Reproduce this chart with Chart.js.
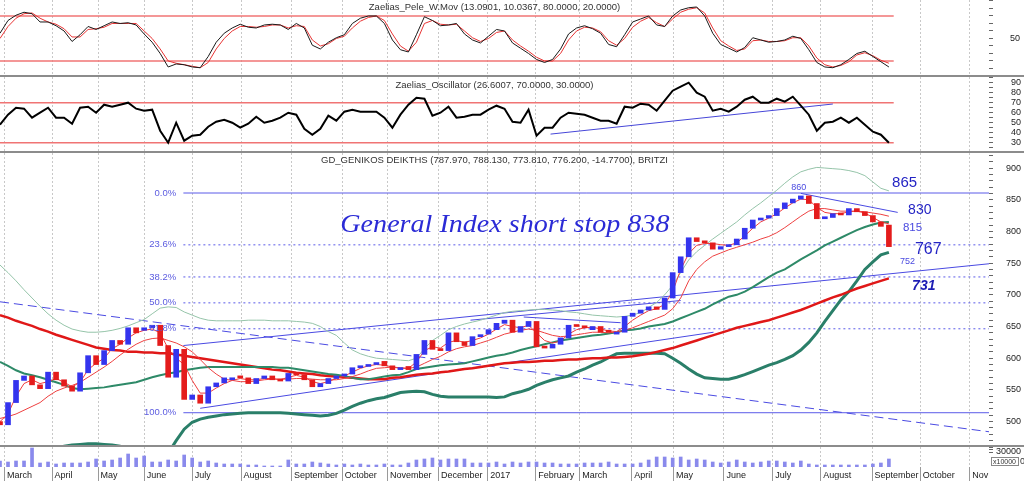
<!DOCTYPE html>
<html>
<head>
<meta charset="utf-8">
<script src="https://cdn.jsdelivr.net/npm/chart.js@4.4.1/dist/chart.umd.min.js"></script>
<style>
  html, body { margin: 0; padding: 0; background: #fff; }
  #wrap { position: relative; width: 1024px; height: 481px; overflow: hidden; background: #fff; }
  #wrap canvas { position: absolute; left: 0; }
  .sep { position: absolute; left: 0; width: 1024px; height: 2px; background: #8c8c8c; z-index: 2; }
</style>
</head>
<body>
<div id="wrap">
  <canvas id="pele" width="1024" height="75" style="top:0"></canvas>
  <div class="sep" style="top:75px"></div>
  <canvas id="osc" width="1024" height="74" style="top:77px"></canvas>
  <div class="sep" style="top:151px"></div>
  <canvas id="price" width="1024" height="292" style="top:153px"></canvas>
  <div class="sep" style="top:445px"></div>
  <canvas id="vol" width="1024" height="34" style="top:447px"></canvas>
</div>
<script>
// resampled bars: bar i is one step of the x axis (about 3.6 sessions), March 2016 .. Sept 2017
const monthPos = [0.56, 6.5, 12.25, 18, 24, 30.1, 36.4, 42.75, 48.4, 54.75, 60.9, 66.9, 72.4, 78.9, 84.1, 90.4, 96.5, 102.5, 108.9, 114.9, 121.1];
const monthNames = ['March', 'April', 'May', 'June', 'July', 'August', 'September', 'October', 'November', 'December', '2017',
  'February', 'March', 'April', 'May', 'June', 'July', 'August', 'September', 'October', 'Nov'];

// Zaelias_Pele_W.Mov
const peleFast = [57,74,81,85,83,72,72,67,60,46, 55,66,62,67,72,70,71,68,56,45, 30,12,16,15,12,11,26,45,57,64,
  69,65,64,68,69,68,62,70,64,41, 36,45,51,55,70,77,80,80,70,48, 35,32,55,79,74,67,68,70,56,48,
  44,53,62,60,44,37,30,22,18,22, 36,56,64,67,63,57,42,39,55,72, 76,80,68,66,80,88,91,92,80,57,
  42,37,32,38,51,48,45,46,48,53, 50,35,18,12,11,15,22,30,33,26, 19,12];
const peleSlow = [50,66,77,83,84,77,72,69,63,52, 52,62,63,65,70,70,70,70,60,50, 36,20,17,15,13,11,18,36,50,60,
  66,66,65,66,68,68,64,67,66,48, 40,43,50,53,64,73,78,80,74,56, 40,33,45,70,74,69,68,69,60,51,
  46,50,58,60,48,40,33,25,20,20, 30,48,60,65,64,59,47,41,50,65, 73,78,71,66,76,85,89,91,84,64,
  47,40,34,36,47,48,46,46,47,51, 51,40,24,15,12,14,19,28,31,27, 21,17];
const peleLevels = [80, 20];

// Zaelias_Oscillator
const oscValues = [48,58,65,64,55,60,65,55,55,49, 65,66,60,68,66,68,70,64,62,63, 42,30,50,32,37,38,46,51,53,50,
  45,49,56,50,52,55,60,58,44,38, 44,57,52,61,63,61,61,61,55,45, 58,68,75,74,57,60,66,55,56,58,
  58,63,67,64,51,50,63,37,45,45, 55,60,59,58,55,52,52,49,66,65, 69,68,62,72,82,86,90,80,76,62,
  64,61,66,73,76,70,70,74,71,76, 67,58,42,50,51,55,50,55,48,41, 38,30];
const oscLevels = [70, 30];
const oscTrend = [[68.75, 38.6], [104, 68.7]];

// GD_GENIKOS DEIKTHS candles
const opens = [500,495,530,565,572,558,552,578,566,556, 548,577,604,590,612,628,622,648,644,648, 652,620,570,614,535,542,529,555,561,566,
  571,569,560,568,572,566,564,576,574,566, 555,560,568,572,575,585,587,590,595,588, 582,587,582,606,628,614,612,640,626,620,
  634,638,645,655,660,641,650,658,618,616, 622,632,652,650,645,650,644,638,641,666, 671,676,681,677,695,735,760,790,784,782,
  772,776,779,788,805,818,821,825,836,845, 851,856,844,820,822,828,826,836,831,825, 815,810];
const closes = [495,530,565,572,558,552,578,566,556,548, 577,604,590,612,628,622,648,640,648,652, 620,570,614,535,542,529,555,561,569,569,
  569,560,568,572,566,564,576,574,566,555, 560,568,572,575,585,587,590,592,588,582, 584,582,606,628,614,612,640,626,620,634,
  635,645,655,660,641,650,658,618,616,622, 632,652,650,648,650,641,641,641,666,671, 676,681,677,695,735,760,790,784,782,772,
  776,779,788,805,818,821,825,836,845,851, 856,844,820,822,828,826,836,831,825,815, 808,776];
const fastAvg = [500,512,540,560,566,560,563,568,562,555, 562,582,592,600,615,622,632,640,644,646, 640,615,600,590,565,545,545,553,560,565,
  568,566,566,568,568,566,570,573,570,563, 560,563,568,572,578,584,588,590,589,586, 584,584,594,612,618,616,625,628,625,628,
  632,638,646,653,650,648,652,640,628,624, 627,638,645,648,649,646,643,642,650,660, 668,675,678,685,705,740,765,778,781,781,
  779,778,782,793,805,815,821,828,837,845, 851,850,838,830,828,828,831,832,829,822, 815,812];
const slowAvg = [505,508,512,518,524,530,540,548,553,557, 562,570,578,586,595,605,614,622,628,631, 632,628,624,618,610,598,585,575,567,565,
  563,563,564,566,567,567,567,568,568,567, 566,566,566,568,571,575,580,584,585,586, 585,584,586,592,598,603,610,615,618,620,
  624,628,633,638,641,644,646,644,640,636, 634,635,637,639,641,641,640,641,644,648, 653,658,663,668,678,695,722,740,752,761,
  766,771,775,779,783,788,792,798,806,815, 824,832,836,836,834,832,832,832,831,829, 827,824];
const midBand = [594,588,581,576,573,570,566,562,558,553, 551,552,553,554,556,558,560,562,566,570, 573,576,578,581,583,585,586,586,586,586,
  586,586,586,586,586,585,585,583,581,579, 577,575,574,572,569,567,567,569,571,573, 574,578,583,585,587,589,590,591,592,595,
  598,601,604,606,609,613,616,619,622,625, 628,630,632,634,636,637,639,641,644,645, 647,650,652,654,658,663,668,673,678,685,
  691,697,700,705,712,720,728,735,740,748, 756,763,770,778,784,790,796,802,807,811, 814,815];
const longAvg = [668,664,659,655,651,646,642,637,633,629, 625,621,617,615,613,612,610,610,609,609, 608,608,606,604,602,600,598,596,594,592,
  590,588,586,584,582,581,579,577,576,575, 573,572,571,570,569,568,567,567,567,569, 570,572,574,575,576,578,579,581,583,584,
  586,588,590,592,593,594,594,595,596,596, 597,598,598,599,600,600,601,601,602,603, 605,607,610,613,616,620,624,628,632,636,
  640,644,648,651,654,657,660,664,668,672, 676,681,686,691,696,700,705,710,714,718, 722,726];
const lowBand = [420,428,436,442,448,452,456,459,461,463, 464,465,465,464,463,461,458,454,448,440, 436,450,470,488,499,504,507,509,511,512,
  513,514,514,514,514,514,513,512,511,510, 509,510,513,518,524,529,533,536,538,542, 546,547,548,547,543,540,539,539,539,539,
  539,539,538,539,544,547,551,557,562,566, 569,572,578,583,589,594,601,607,608,608, 608,608,608,607,600,592,583,575,569,568,
  567,567,570,574,579,584,589,593,598,604, 613,625,640,658,675,692,705,722,740,752, 763,767];
const upBand = [747,735,722,708,695,682,670,660,652,646, 643,641,641,642,644,647,651,656,661,670, 679,681,680,673,668,663,660,659,659,659,
  659,660,660,660,659,659,659,658,657,655, 650,642,636,624,613,607,603,600,599,598, 597,596,600,615,628,636,645,650,654,657,
  660,664,668,672,674,675,676,677,677,676, 675,673,672,670,668,667,666,665,666,668, 672,680,688,700,715,735,755,768,778,788,
  797,806,815,826,836,845,855,865,876,886, 894,898,901,900,899,898,896,893,888,878, 868,864];

// drawn trend lines [x, value]
const downTrend = [[0, 689], [123.5, 484]];
const riseLine = [[22.9, 620], [123.5, 749]];
const riseLine2 = [[58.75, 660], [85, 691]];
const supportLine = [[25, 521], [89.1, 641]];
const flagLine = [[65.4, 665], [77.5, 656]];
const topLine = [[100, 860], [112.1, 830]];

// Fibonacci retracement
const fibHigh = 860.6, fibLow = 514, fibStart = 22.9;
const fibPct = [0, 23.6, 38.2, 50, 61.8, 100];

// volume, units of 1000 (axis shows x10000)
const volume = [12,10,12,12,38,8,10,6,8,8, 8,10,16,12,14,18,26,18,22,10, 10,14,12,24,18,10,12,8,6,6,
  6,4,4,2,2,2,14,6,6,10, 8,6,4,6,4,6,4,4,6,4, 4,8,14,16,18,14,16,16,16,8,
  8,8,10,6,10,8,10,10,8,8, 6,6,6,8,8,8,10,6,6,6, 8,14,20,20,18,20,14,16,14,10,
  8,10,14,10,8,10,12,12,10,8, 12,6,4,4,4,4,4,4,4,6, 8,16];

const peleTicks = [10, 20, 30, 40, 50, 60, 70, 80, 90, 100];
const oscTicks = [25, 30, 35, 40, 45, 50, 55, 60, 65, 70, 75, 80, 85, 90, 95];
const priceLabels = [500, 550, 600, 650, 700, 750, 800, 850, 900];
const volTicks = [30, 35, 40];

const X_MAX = 123.5;
const LAST_X = 111.6;
const FONT = '"Liberation Sans", Arial, sans-serif';
Chart.defaults.font.family = FONT;

const pts = arr => arr.map((v, i) => ({x: i, y: v}));
const seg = p => p.map(q => ({x: q[0], y: q[1]}));
const line = (data, color, width, extra) => Object.assign({
  type: 'line', data, borderColor: color, borderWidth: width, pointRadius: 0, fill: false, tension: 0
}, extra || {});

function xScale(labels) {
  return {
    type: 'linear', min: 0, max: X_MAX, offset: false,
    afterBuildTicks: s => { s.ticks = monthPos.map(v => ({value: v})); },
    afterFit: s => { s.height = labels ? 14 : 0; s.paddingLeft = 0; s.paddingRight = 0; },
    grid: { color: '#c8c8c8', offset: false, drawTicks: labels, tickLength: 14, tickColor: '#9a9a9a' },
    border: { display: false, dash: [2, 2] },
    ticks: labels ? {
      display: true, autoSkip: false, maxRotation: 0, align: 'start', padding: -11,
      font: { size: 9 }, color: '#222', callback: (v, i) => ' ' + monthNames[i]
    } : { display: false }
  };
}

function yScale(min, max, vals, label, pad) {
  return {
    position: 'right', min, max,
    afterBuildTicks: s => { s.ticks = vals.map(v => ({value: v})); },
    afterFit: s => { s.width = 35; s.paddingTop = 0; s.paddingBottom = 0; },
    grid: { drawOnChartArea: false, tickLength: 4, color: '#666' },
    border: { display: false },
    ticks: { autoSkip: false, padding: pad, font: { size: 9 }, color: '#222', callback: label }
  };
}

const captionPlugin = {
  id: 'caption',
  afterDraw(chart, args, opts) {
    if (!opts.text) return;
    const {ctx, chartArea} = chart;
    ctx.save();
    ctx.font = '9.5px ' + FONT;
    ctx.fillStyle = '#333';
    ctx.textAlign = 'center';
    ctx.textBaseline = 'middle';
    ctx.fillText(opts.text, (chartArea.left + chartArea.right) / 2, chartArea.top + opts.dy);
    ctx.restore();
  }
};

const notePlugin = {
  id: 'notes',
  afterDatasetsDraw(chart, args, opts) {
    const {ctx, scales: {x, y}} = chart;
    ctx.save();
    (opts.items || []).forEach(n => {
      ctx.font = n.font;
      ctx.fillStyle = n.color;
      ctx.textAlign = n.align || 'left';
      ctx.textBaseline = n.baseline || 'middle';
      const px = x.getPixelForValue(n.x), py = y.getPixelForValue(n.y);
      if (n.x2 !== undefined) {
        const w = x.getPixelForValue(n.x2) - px;
        const k = w / ctx.measureText(n.text).width;
        ctx.translate(px, py);
        ctx.scale(k, 1);
        ctx.fillText(n.text, 0, 0);
        ctx.setTransform(1, 0, 0, 1, 0, 0);
      } else {
        ctx.fillText(n.text, px, py);
      }
    });
    ctx.restore();
  }
};

const volPlugin = {
  id: 'volnote',
  afterDraw(chart) {
    const {ctx, chartArea} = chart;
    const x0 = chartArea.right + 2;
    ctx.save();
    ctx.strokeStyle = '#888';
    ctx.lineWidth = 1;
    ctx.strokeRect(x0 + 0.5, 10.5, 27, 8);
    ctx.font = '7px ' + FONT;
    ctx.fillStyle = '#333';
    ctx.textBaseline = 'middle';
    ctx.fillText('x10000', x0 + 2, 14.8);
    ctx.font = '9px ' + FONT;
    ctx.fillText('0', x0 + 29, 14.8);
    ctx.restore();
  }
};

function makeChart(id, datasets, y, pluginOpts, plugins, labels) {
  return new Chart(document.getElementById(id), {
    type: 'line',
    data: { datasets },
    options: {
      responsive: false, animation: false, devicePixelRatio: 1, events: [],
      layout: { padding: 0 },
      plugins: Object.assign({ legend: { display: false }, tooltip: { enabled: false } }, pluginOpts),
      scales: { x: xScale(labels), y }
    },
    plugins
  });
}

const LEVEL_RED = '#f07474';
const levelLine = v => line(seg([[0, v], [LAST_X, v]]), LEVEL_RED, 1.5);

// panel 1: Pele
makeChart('pele', [
  line(pts(peleFast), '#1a1a1a', 1),
  line(pts(peleSlow), '#e83434', 1),
  ...peleLevels.map(levelLine)
], yScale(1.3, 101.3, peleTicks, v => v === 50 ? '50' : '', 17),
  { caption: { text: 'Zaelias_Pele_W.Mov (13.0901, 10.0367, 80.0000, 20.0000)', dy: 7 } },
  [captionPlugin], false);

// panel 2: Oscillator
makeChart('osc', [
  line(pts(oscValues), '#000', 2),
  line(seg(oscTrend), '#4646d8', 1),
  ...oscLevels.map(levelLine)
], yScale(21.7, 95.7, oscTicks, v => (v % 10 === 0 && v >= 30 && v <= 90) ? String(v) : '', 18),
  { caption: { text: 'Zaelias_Oscillator (26.6007, 70.0000, 30.0000)', dy: 8 } },
  [captionPlugin], false);

// panel 3: price
const UP = '#3434ee', DOWN = '#e41c1c';
const BLUE = '#4a4ae2', FIB = '#5a5ae8';
const fibLevel = p => fibHigh - p / 100 * (fibHigh - fibLow);
const fibSets = fibPct.map(p => line(seg([[fibStart, fibLevel(p)], [X_MAX, fibLevel(p)]]), FIB, 1,
  (p === 0 || p === 100) ? {} : { borderDash: [2, 3] }));
const priceMinor = [];
for (let v = 470; v <= 920; v += 10) priceMinor.push(v);

const noteFont = (s, extra) => (extra ? extra + ' ' : '') + s + 'px ' + FONT;
const priceNotes = fibPct.map(p => ({
  text: p.toFixed(1) + '%', x: 22, y: fibLevel(p), font: noteFont(9.5), color: '#5c5ce0', align: 'right'
})).concat([
  { text: 'General Index short stop 838', x: 42.5, x2: 83.6, y: 799, baseline: 'alphabetic',
    font: 'italic 26px "Liberation Serif", serif', color: '#2b2bd6' },
  { text: '860', x: 99.75, y: 870, font: noteFont(9), color: '#4a4ae0', align: 'center' },
  { text: '865', x: 111.4, y: 876, font: noteFont(15), color: '#2424c4' },
  { text: '830', x: 113.4, y: 834, font: noteFont(14), color: '#2424c4' },
  { text: '815', x: 112.75, y: 805, font: noteFont(11.5), color: '#4a4ae0' },
  { text: '767', x: 114.25, y: 771, font: noteFont(16), color: '#2424c4' },
  { text: '752', x: 112.4, y: 752, font: noteFont(9), color: '#4a4ae0' },
  { text: '731', x: 113.9, y: 714, font: noteFont(14, 'italic bold'), color: '#1c1cb4' }
]);

makeChart('price', [
  { type: 'bar', data: closes.map((c, i) => ({x: i, y: [opens[i], c]})),
    backgroundColor: c => (c.raw && c.raw.y[1] >= c.raw.y[0]) ? UP : DOWN,
    barThickness: 5, minBarLength: 2, borderWidth: 0 },
  line(pts(fastAvg), '#f03c3c', 1),
  line(pts(slowAvg), '#ee4040', 1),
  line(pts(midBand), '#2e8a68', 2),
  line(pts(longAvg), '#e01818', 2.5),
  line(pts(lowBand), '#2a7f69', 3),
  line(pts(upBand), '#95c4a9', 1),
  line(seg(downTrend), BLUE, 1, { borderDash: [9, 5] }),
  line(seg(riseLine), BLUE, 1),
  line(seg(riseLine2), BLUE, 1),
  line(seg(supportLine), BLUE, 1),
  line(seg(flagLine), BLUE, 1),
  line(seg(topLine), BLUE, 1),
  ...fibSets
], yScale(463.1, 923.7, priceMinor, v => priceLabels.includes(v) ? String(v) : '', 13),
  { caption: { text: 'GD_GENIKOS DEIKTHS (787.970, 788.130, 773.810, 776.200, -14.7700), BRITZI', dy: 7 },
    notes: { items: priceNotes } },
  [captionPlugin, notePlugin], false);

// panel 4: volume + months
makeChart('vol', [
  { type: 'bar', data: pts(volume), backgroundColor: '#8a8aec', barThickness: 3, borderWidth: 0 }
], yScale(0, 40, volTicks, v => v === 30 ? '30000' : '', 3),
  {}, [volPlugin], true);
</script>
</body>
</html>
